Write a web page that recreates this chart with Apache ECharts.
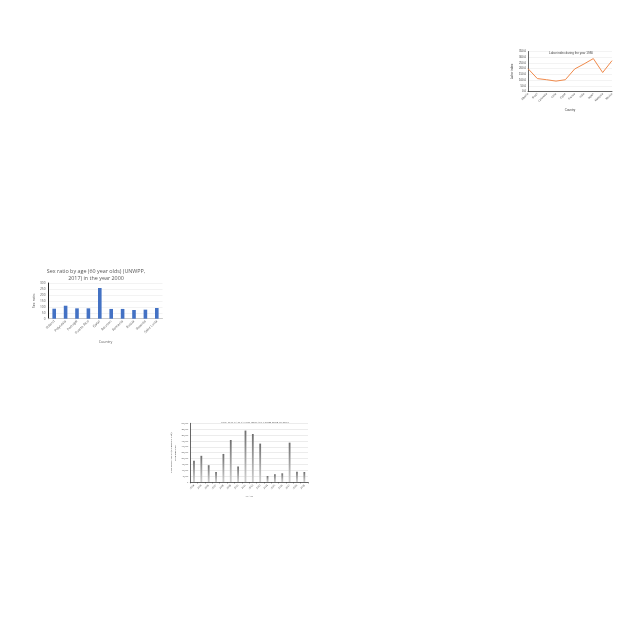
<!DOCTYPE html>
<html>
<head>
<meta charset="utf-8">
<script src="https://cdn.jsdelivr.net/npm/echarts@6/dist/echarts.min.js"></script>
<style>html,body{margin:0;padding:0;background:#fff}#c{width:640px;height:640px}</style>
</head>
<body>
<div id="c"></div>
<script>
// Chart A: line chart (top right)
const laborCountries = ['Albania','Brazil','Colombia','Chile','Egypt','France','India','Japan','Malaysia','Mexico'];
const laborIndex = [200, 113, 103, 91, 103, 197, 241, 288, 166, 270];
const laborTicks = [0, 50, 100, 150, 200, 250, 300, 350];

// Chart B: sex ratio bar chart (middle left)
const sexCountries = ['Poland','Polynesia','Portugal','Puerto Rico','Qatar','Réunion','Romania','Russia','Rwanda','Saint Lucia'];
const sexRatio = [84, 109, 87, 87, 258, 82, 82, 73, 76, 90];
const sexTicks = [0, 50, 100, 150, 200, 250, 300];

// Chart C: GDP bar chart (bottom middle)
const gdpYears = ['2004','2005','2006','2007','2008','2009','2010','2011','2012','2013','2014','2015','2016','2017','2018','2019'];
const gdpValues = [18000, 22300, 14300, 8500, 23900, 35800, 13200, 43800, 40900, 32700, 5100, 6600, 7400, 33500, 8800, 8500];
const gdpTicks = [0, 5000, 10000, 15000, 20000, 25000, 30000, 35000, 40000, 45000, 50000];

const chart = echarts.init(document.getElementById('c'), null, {renderer: 'canvas'});
const sans = 'Liberation Sans';
const cal = 'Open Sans';
const serif = 'Liberation Serif';

chart.setOption({
  animation: false,
  backgroundColor: '#fff',
  title: [
    {text: 'Labor index during the year 1980', left: 566, top: 46.5, textAlign: 'center',
     textStyle: {fontFamily: sans, fontSize: 3, fontWeight: 'normal', color: '#404040'}},
    {text: 'Sex ratio by age (60 year olds) (UNWPP,\n2017) in the year 2000', left: 91, top: 263.5, textAlign: 'center',
     textStyle: {fontFamily: cal, fontSize: 5.4, lineHeight: 6.6, fontWeight: 'normal', color: '#595959'}},
    {text: 'GDP PER CAPITA FOR BRITAIN FROM 2004 TO 2019', left: 250, top: 415.5, textAlign: 'center',
     textStyle: {fontFamily: serif, fontSize: 2.9, fontWeight: 'normal', color: '#404040'}}
  ],
  grid: [
    {left: 528, top: 51.5, width: 84, height: 40},
    {left: 48.5, top: 283, width: 114, height: 35.7},
    {left: 190.3, top: 423.3, width: 117.7, height: 58.7}
  ],
  xAxis: [
    {gridIndex: 0, type: 'category', data: laborCountries, boundaryGap: false,
     name: 'Country', nameLocation: 'middle', nameGap: 17,
     nameTextStyle: {fontFamily: sans, fontSize: 3, color: '#404040'},
     axisLine: {lineStyle: {color: '#404040', width: 0.8}}, axisTick: {show: false},
     axisLabel: {rotate: 45, fontFamily: sans, fontSize: 2.7, color: '#404040', margin: 2, interval: 0}},
    {gridIndex: 1, type: 'category', data: sexCountries,
     name: 'Country', nameLocation: 'middle', nameGap: 21,
     nameTextStyle: {fontFamily: cal, fontSize: 3.6, color: '#595959'},
     axisLine: {lineStyle: {color: '#bfbfbf', width: 0.8}}, axisTick: {show: false},
     axisLabel: {rotate: 45, fontFamily: cal, fontSize: 3.4, color: '#595959', margin: 2, interval: 0}},
    {gridIndex: 2, type: 'category', data: gdpYears,
     name: 'YEAR', nameLocation: 'middle', nameGap: 13,
     nameTextStyle: {fontFamily: serif, fontSize: 2.8, color: '#404040'},
     axisLine: {lineStyle: {color: '#404040', width: 0.8}},
     axisTick: {show: true, length: 1.5, lineStyle: {color: '#404040', width: 0.5}},
     axisLabel: {rotate: 45, fontFamily: serif, fontSize: 2.6, color: '#404040', margin: 3, interval: 0}}
  ],
  yAxis: [
    {gridIndex: 0, type: 'value', min: laborTicks[0], max: laborTicks[laborTicks.length - 1], interval: 50,
     name: 'Labor index', nameLocation: 'middle', nameGap: 14, nameRotate: 90,
     nameTextStyle: {fontFamily: sans, fontSize: 3, color: '#404040'},
     axisLine: {show: true, lineStyle: {color: '#404040', width: 0.8}}, axisTick: {show: false},
     splitLine: {lineStyle: {color: '#e6e6e6', width: 0.5}},
     axisLabel: {fontFamily: sans, fontSize: 2.8, color: '#404040', margin: 2, formatter: v => v.toFixed(1)}},
    {gridIndex: 1, type: 'value', min: sexTicks[0], max: sexTicks[sexTicks.length - 1], interval: 50,
     name: 'Sex ratio', nameLocation: 'middle', nameGap: 13, nameRotate: 90,
     nameTextStyle: {fontFamily: cal, fontSize: 3.6, color: '#595959'},
     axisLine: {show: true, lineStyle: {color: '#262626', width: 1}}, axisTick: {show: false},
     splitLine: {lineStyle: {color: '#e6e6e6', width: 0.5}},
     axisLabel: {fontFamily: cal, fontSize: 3.2, color: '#595959', margin: 3}},
    {gridIndex: 2, type: 'value', min: gdpTicks[0], max: gdpTicks[gdpTicks.length - 1], interval: 5000,
     name: 'GDP PER CAPITA (CURRENT US$)\nFOR BRITAIN', nameLocation: 'middle', nameGap: 12, nameRotate: 90,
     nameTextStyle: {fontFamily: serif, fontSize: 2.6, lineHeight: 4, color: '#404040'},
     axisLine: {show: true, lineStyle: {color: '#404040', width: 0.8}}, axisTick: {show: false},
     splitLine: {lineStyle: {color: '#d9d9d9', width: 0.5}},
     axisLabel: {fontFamily: serif, fontSize: 2.5, color: '#404040', margin: 2}}
  ],
  series: [
    {type: 'line', xAxisIndex: 0, yAxisIndex: 0, data: laborIndex, symbol: 'none',
     lineStyle: {color: '#F08A4B', width: 1}},
    {type: 'bar', xAxisIndex: 1, yAxisIndex: 1, data: sexRatio, barWidth: 3.6,
     itemStyle: {color: '#4472C4'}},
    {type: 'bar', xAxisIndex: 2, yAxisIndex: 2, data: gdpValues, barWidth: 1.8,
     itemStyle: {color: new echarts.graphic.LinearGradient(0, 0, 0, 1, [
       {offset: 0, color: '#6f6f6f'}, {offset: 1, color: '#d0d0d0'}])}}
  ]
});
</script>
</body>
</html>
